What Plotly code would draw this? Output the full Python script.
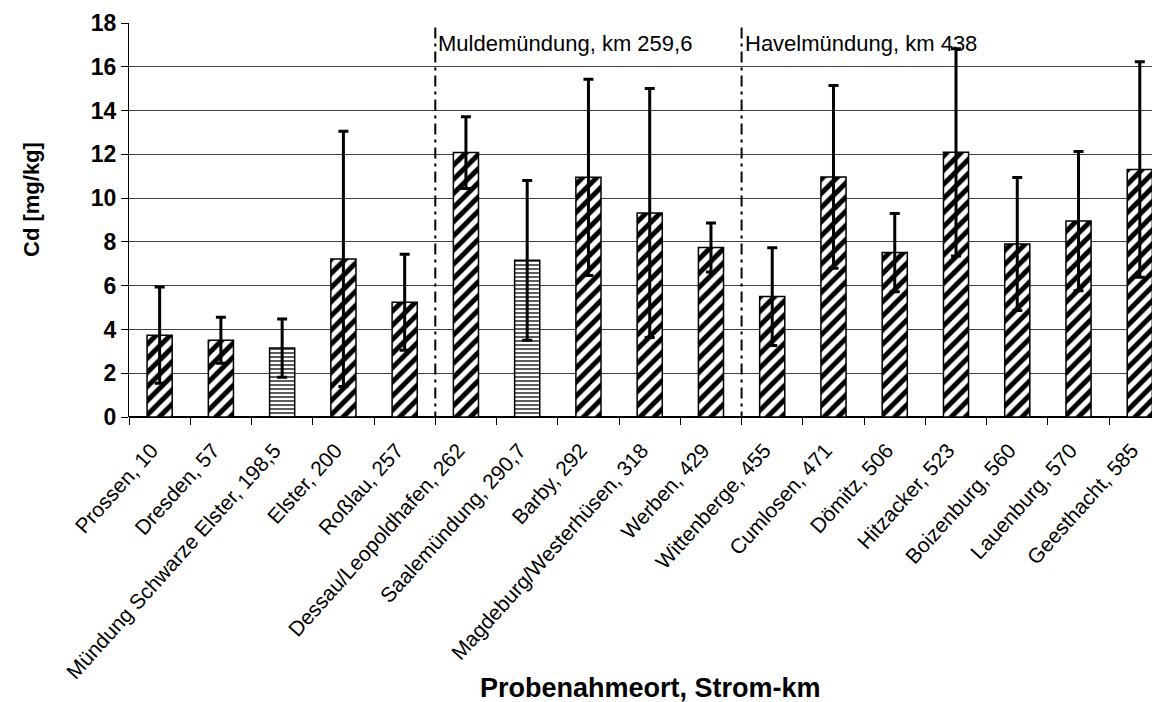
import plotly.graph_objects as go

categories = [
    "Prossen, 10", "Dresden, 57", "Mündung Schwarze Elster, 198,5", "Elster, 200",
    "Roßlau, 257", "Dessau/Leopoldhafen, 262", "Saalemündung, 290,7", "Barby, 292",
    "Magdeburg/Westerhüsen, 318", "Werben, 429", "Wittenberge, 455", "Cumlosen, 471",
    "Dömitz, 506", "Hitzacker, 523", "Boizenburg, 560", "Lauenburg, 570", "Geesthacht, 585",
]
cd_mean = [3.74, 3.51, 3.15, 7.22, 5.24, 12.08, 7.16, 10.95, 9.32, 7.74, 5.50,
           10.97, 7.51, 12.09, 7.90, 8.95, 11.31]
cd_std = [2.20, 1.05, 1.33, 5.83, 2.19, 1.64, 3.65, 4.48, 5.69, 1.12, 2.23,
          4.18, 1.79, 4.73, 3.04, 3.18, 4.92]
tributary_sites = ["Mündung Schwarze Elster, 198,5", "Saalemündung, 290,7"]
y_ticks = [0, 2, 4, 6, 8, 10, 12, 14, 16, 18]
markers = [(4.5, "Muldemündung, km 259,6"), (9.5, "Havelmündung, km 438")]

FONT = "Liberation Sans, Arial, sans-serif"

# page body has an 8px default margin; figure coords = screen coords - 8
L, T, B = 121, 15, 409
W, H = 1160, 702
PW = W - L - 8
PH = B - T

shapes_pat = ["-" if c in tributary_sites else "/" for c in categories]
pat_size = [4 if c in tributary_sites else 10 for c in categories]
pat_fg = ["#333333" if c in tributary_sites else "black" for c in categories]
pat_sol = [0.4 if c in tributary_sites else 0.5 for c in categories]

fig = go.Figure()
fig.add_trace(go.Bar(
    x=categories, y=cd_mean, width=0.41,
    marker=dict(color="white", line=dict(color="black", width=1.5),
                pattern=dict(shape=shapes_pat, size=pat_size, fgcolor=pat_fg,
                             fgopacity=1, bgcolor="white", solidity=pat_sol,
                             fillmode="overlay")),
    error_y=dict(type="data", array=cd_std, symmetric=True, color="black",
                 thickness=3, width=5),
))

for xpos, label in markers:
    fig.add_shape(type="line", xref="x", yref="y", x0=xpos, x1=xpos, y0=-0.25, y1=18,
                  line=dict(color="black", width=2, dash="11px,5px,3px,5px"))
    fig.add_annotation(x=xpos, y=17.07, xref="x", yref="y", text=label, showarrow=False,
                       xanchor="left", yanchor="middle", xshift=1,
                       font=dict(family=FONT, size=22, color="black"))

fig.add_annotation(x=(642 - L) / PW, y=-(680 - B) / PH, xref="paper", yref="paper",
                   text="Probenahmeort, Strom-km", showarrow=False,
                   xanchor="center", yanchor="middle",
                   font=dict(family=FONT, size=27, color="black", weight="bold"))
fig.add_annotation(x=-(L - 24) / PW, y=(B - 192) / PH, xref="paper", yref="paper",
                   text="Cd [mg/kg]", showarrow=False, textangle=-90,
                   xanchor="center", yanchor="middle",
                   font=dict(family=FONT, size=22, color="black", weight="bold"))

fig.update_layout(
    width=W, height=H,
    margin=dict(l=L, r=8, t=T, b=H - B, autoexpand=False),
    paper_bgcolor="white", plot_bgcolor="white",
    showlegend=False,
    font=dict(family=FONT, color="black"),
)
fig.update_xaxes(
    type="category", range=[-0.5, 16.33], tickangle=-48, automargin=False,
    tickfont=dict(family=FONT, size=21, color="black"),
    ticklabelstandoff=16, ticklabelshift=-8,
    tickson="boundaries", ticks="outside", ticklen=7, tickcolor="black",
    showline=False, showgrid=False, zeroline=False,
)
fig.update_yaxes(
    range=[0, 18], tickvals=y_ticks, automargin=False,
    tickfont=dict(family=FONT, size=23, color="black", weight="bold"),
    ticks="outside", ticklen=7, tickcolor="black",
    showline=True, linecolor="black", linewidth=1,
    showgrid=True, gridcolor="#404040", gridwidth=1,
    zeroline=True, zerolinecolor="black", zerolinewidth=1.5,
)

fig.write_html("out.html")
